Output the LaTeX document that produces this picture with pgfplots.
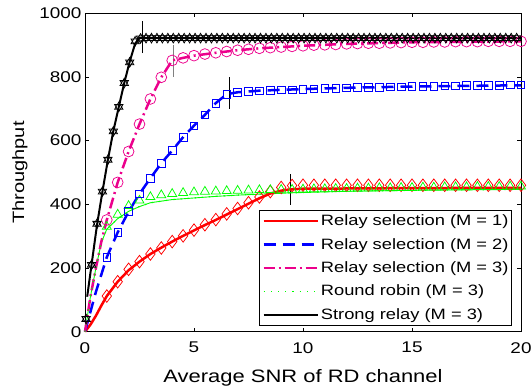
\documentclass[border=0pt]{standalone}
\usepackage{fontspec}
\setmainfont[FakeStretch=1.22]{Liberation Sans}
\usepackage{pgfplots}
\pgfplotsset{compat=1.18}
\pgfdeclareplotmark{hexagram}{%
 \pgfpathmoveto{\pgfpointpolar{90}{\pgfplotmarksize}}%
 \pgfpathlineto{\pgfpointpolar{210}{\pgfplotmarksize}}%
 \pgfpathlineto{\pgfpointpolar{330}{\pgfplotmarksize}}%
 \pgfpathclose
 \pgfpathmoveto{\pgfpointpolar{270}{\pgfplotmarksize}}%
 \pgfpathlineto{\pgfpointpolar{30}{\pgfplotmarksize}}%
 \pgfpathlineto{\pgfpointpolar{150}{\pgfplotmarksize}}%
 \pgfpathclose
 \pgfusepathqstroke}
\newcommand{\lt}[1]{\makebox[186pt][l]{\fontsize{15}{18}\selectfont #1}}
\begin{document}
\begin{tikzpicture}
\useasboundingbox (-85pt,-59.3pt) rectangle (447pt,331.7pt);
\begin{axis}[
 at={(0,0)}, anchor=south west,
 scale only axis, width=436pt, height=318.4pt,
 xmin=0,xmax=20,ymin=0,ymax=1000,
 xtick={0,5,10,15,20}, ytick={0,200,400,600,800,1000},
 tick align=inside, major tick length=4pt,
 axis line style={line width=0.8pt},
 every tick/.style={black,line width=0.6pt},
 ticklabel style={font=\fontsize{15.5}{18}\selectfont},
 xticklabel shift=7pt,
 /pgf/number format/assume math mode=true,
 /pgf/number format/1000 sep={},
 scaled ticks=false, clip=false,
 xlabel={Average SNR of RD channel}, ylabel={Throughput},
 xlabel style={font=\fontsize{18}{22}\selectfont},
 ylabel style={font=\fontsize{16.4}{20}\selectfont},
 xlabel shift=9pt, ylabel shift=5pt,
 legend cell align=left,
 legend style={at={(0.980,0.019)},anchor=south east, draw=black, line width=0.8pt,
   font=\fontsize{15}{18}\selectfont, row sep=7pt,
   inner ysep=2.5pt, inner xsep=3pt},
 legend image code/.code={\draw[#1] (0pt,0pt) -- (54pt,0pt);},
]
% markers
\addplot[only marks, mark=diamond, mark size=6.3pt, red, mark options={line width=0.75pt}, forget plot] coordinates {
(1,112)(1.5,157)(2,196)(2.5,220)(3,244)(3.5,263)(4,283)(4.5,301)(5,319)(5.5,336)(6,352)(6.5,370)(7,387)(7.5,405)(8,423)(8.5,440)(9,453)(9.5,459)(10,460)(10.5,460)(11,460)(11.5,460)(12,460)(12.5,460)(13,460)(13.5,460)(14,460)(14.5,460)(15,460)(15.5,460)(16,460)(16.5,460)(17,460)(17.5,460)(18,460)(18.5,460)(19,460)(19.5,460)(20,460)};
\addplot[only marks, mark=triangle, mark size=5.2pt, green, mark options={line width=0.75pt}, forget plot] coordinates {
(1,330)(1.5,368)(2,395)(2.5,412)(3,423)(3.5,429)(4,433)(4.5,436)(5,438)(5.5,440)(6,441)(6.5,442)(7,443)(7.5,444)(8,445)(8.5,445)(9,446)(9.5,446)(10,447)(10.5,448)(11,448)(11.5,449)(12,449)(12.5,450)(13,450)(13.5,451)(14,451)(14.5,452)(15,452)(15.5,453)(16,453)(16.5,454)(17,454)(17.5,454)(18,455)(18.5,455)(19,455)(19.5,456)(20,456)};
\addplot[only marks, mark=square, mark size=3.8pt, blue, mark options={line width=0.75pt}, forget plot] coordinates {
(1,234)(1.5,312)(2,377)(2.5,433)(3,482)(3.5,529)(4,569)(4.5,611)(5,647)(5.5,681)(6,718)(6.5,746)(7,752)(7.5,754)(8,756)(8.5,758)(9,759)(9.5,760)(10,762)(10.5,763)(11,764)(11.5,765)(12,766)(12.5,767)(13,767)(13.5,768)(14,769)(14.5,769)(15,770)(15.5,771)(16,771)(16.5,772)(17,772)(17.5,773)(18,773)(18.5,774)(19,774)(19.5,775)(20,775)};
\addplot[only marks, mark=o, mark size=5.4pt, magenta, mark options={line width=0.75pt}, forget plot] coordinates {
(1,351)(1.5,469)(2,566)(2.5,652)(3,731)(3.5,799)(4,852)(4.5,860)(5,867)(5.5,872)(6,876)(6.5,880)(7,884)(7.5,887)(8,890)(8.5,892)(9,894)(9.5,896)(10,898)(10.5,900)(11,901)(11.5,902)(12,904)(12.5,905)(13,906)(13.5,906)(14,907)(14.5,908)(15,909)(15.5,909)(16,910)(16.5,910)(17,911)(17.5,911)(18,911)(18.5,912)(19,912)(19.5,912)(20,912)};
\addplot[only marks, mark=hexagram, mark size=4.8pt, black, mark options={line width=0.8pt}, forget plot] coordinates {
(0.05,40)(0.3,210)(0.55,339)(0.8,440)(1.05,540)(1.3,629)(1.55,706)(1.8,781)(2.05,846)(2.3,912)
(2.55,921)(2.80,922)(3.05,922)(3.30,922)(3.55,922)(3.80,922)(4.05,922)(4.30,922)(4.55,922)(4.80,922)
(5.05,922)(5.30,922)(5.55,922)(5.80,922)(6.05,922)(6.30,922)(6.55,922)(6.80,922)(7.05,922)(7.30,922)
(7.55,922)(7.80,922)(8.05,922)(8.30,922)(8.55,922)(8.80,922)(9.05,922)(9.30,922)(9.55,922)(9.80,922)
(10.05,922)(10.30,922)(10.55,922)(10.80,922)(11.05,922)(11.30,922)(11.55,922)(11.80,922)(12.05,922)(12.30,922)
(12.55,922)(12.80,922)(13.05,922)(13.30,922)(13.55,922)(13.80,922)(14.05,922)(14.30,922)(14.55,922)(14.80,922)
(15.05,922)(15.30,922)(15.55,922)(15.80,922)(16.05,922)(16.30,922)(16.55,922)(16.80,922)(17.05,922)(17.30,922)
(17.55,922)(17.80,922)(18.05,922)(18.30,922)(18.55,922)(18.80,922)(19.05,922)(19.30,922)(19.55,922)(19.80,922)};
% vertical markers
\addplot[black, line width=0.7pt, forget plot] coordinates {(2.63,875)(2.63,975)};
\addplot[gray, line width=0.7pt, forget plot] coordinates {(4.05,800)(4.05,900)};
\addplot[black, line width=0.7pt, forget plot] coordinates {(6.62,700)(6.62,800)};
\addplot[black, line width=0.7pt, forget plot] coordinates {(9.4,398)(9.4,496)};
% green thin line (drawn solid as in the figure)
\addplot[green, line width=0.9pt, forget plot] coordinates {
(0,0)(0.25,110)(0.5,200)(0.75,280)(1,322)(1.5,355)(2,378)(2.5,393)(3,405)(4,415)(5,420)(6,425)(7,429)(8,432)(9.4,436)(12,441)(15,444)(20,447)};
% lines
\addplot[red, line width=2.5pt] coordinates {
(0,0)(0.25,22)(0.5,50)(0.75,82)(1,112)(1.5,157)(2,193)(2.5,220)(3,244)(3.5,264)(4,283)(4.5,301)(5,318)(5.5,335)(6,351)(6.5,368)(7,385)(7.5,402)(8,419)(8.5,434)(9,443)(9.4,447)(10,449)(15,451)(20,452)};
\addlegendentry{\lt{Relay selection (M = 1)}}
\addplot[blue, line width=2.5pt, dash pattern=on 12pt off 7pt] coordinates {
(0,0)(0.5,125)(1,234)(1.5,312)(2,377)(2.5,433)(3,482)(3.5,529)(4,569)(4.5,611)(5,647)(5.5,681)(6,718)(6.5,746)(7,752)(8,757)(10,762)(12,766)(15,770)(20,774)};
\addlegendentry{\lt{Relay selection (M = 2)}}
\addplot[magenta, line width=2.5pt, dash pattern=on 11pt off 4pt on 2pt off 4pt] coordinates {
(0,0)(0.25,110)(0.5,200)(0.75,283)(1,351)(1.5,469)(2,566)(2.5,652)(3,731)(3.5,799)(4,852)(4.5,860)(5,867)(6,876)(7,884)(8,890)(10,898)(12,904)(15,909)(20,912)};
\addlegendentry{\lt{Relay selection (M = 3)}}
\addplot[green, line width=1.2pt, dash pattern=on 1.2pt off 6pt] coordinates {
(0,0)(0.25,110)(0.5,200)(0.75,280)(1,322)(1.5,355)(2,378)(2.5,393)(3,405)(4,415)(5,420)(6,425)(7,429)(8,432)(9.4,436)(12,441)(15,444)(20,447)};
\addlegendentry{\lt{Round robin (M = 3)}}
\addplot[black, line width=2pt] coordinates {
(0.1,110)(0.3,210)(0.55,335)(0.8,440)(1.05,540)(1.3,630)(1.55,706)(1.8,781)(2.05,848)(2.3,905)(2.5,922)(20,922)};
\addlegendentry{\lt{Strong relay (M = 3)}}
\end{axis}
\end{tikzpicture}
\end{document}
